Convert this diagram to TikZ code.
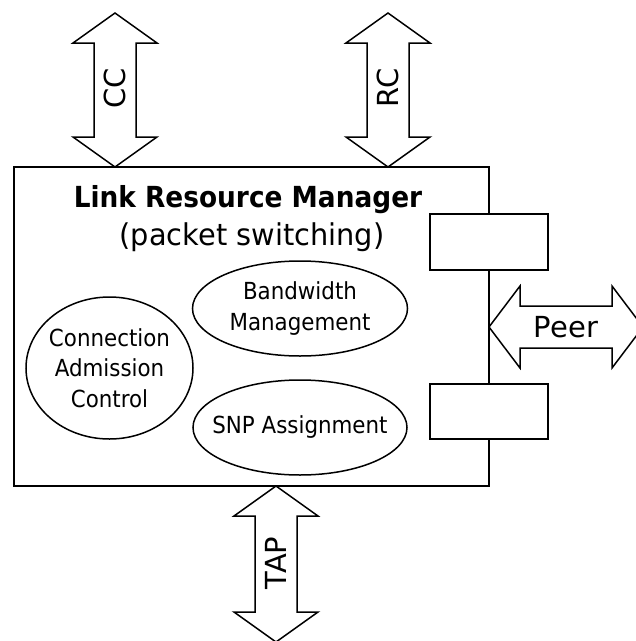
\documentclass[tikz,border=0pt]{standalone}
\usepackage{fontspec}
\setmainfont{DejaVu Sans}
\newfontfamily\narrowsans{DejaVu Sans}[FakeStretch=0.91]
\newfontfamily\midsans{DejaVu Sans}[FakeStretch=0.96]
\usetikzlibrary{shapes.geometric,calc}
\tikzset{
  x=1pt, y=-1pt,
  outline/.style={draw=black, line width=1.5pt, line join=miter},
  portbox/.style={outline, fill=white},
  task/.style={outline, ellipse, inner sep=0pt},
  tasktext/.style={align=center, inner sep=0pt, font=\narrowsans\fontsize{23.5}{30.5}\selectfont},
  arrowlabel/.style={font=\fontsize{29}{34}\selectfont, inner sep=0pt},
}
% vertical double arrow: centre x, top tip y, bottom tip y
\newcommand{\VDArrow}[3]{%
  \draw[outline, fill=white] (#1,#2) -- ++(42,30) -- ++(-21,0) |- ($(#1,#3)+(21,-30)$) -- ++(21,0)
    -- (#1,#3) -- ++(-42,-30) -- ++(21,0) |- ($(#1,#2)+(-21,30)$) -- ++(-21,0) -- cycle;}
\begin{document}
\begin{tikzpicture}
\useasboundingbox (0,0) rectangle (636,641);

% main block
\draw[outline] (14,167) rectangle (489,486);
\node[font=\narrowsans\fontsize{29}{32}\selectfont\bfseries, anchor=base] (title) at (248,207) {Link Resource Manager};
\node[font=\midsans\fontsize{30}{34}\selectfont, anchor=base] (subtitle) at (252,245) {(packet switching)};

% functions inside the manager
\node[task, minimum width=215pt, minimum height=95pt] (bw) at (300,308.5) {};
\node[tasktext] at (bw) {Bandwidth\\Management};
\node[task, minimum width=214pt, minimum height=95pt] (snp) at (300,427.5) {};
\node[tasktext] at (snp) {SNP Assignment};
\node[task, minimum width=167pt, minimum height=142pt] (cac) at (109.5,368) {};
\node[tasktext] at (cac) {Connection\\Admission\\Control};

% ports on the right edge
\node[portbox, minimum width=118pt, minimum height=56pt, inner sep=0pt] (p1) at (489,242) {};
\node[portbox, minimum width=118pt, minimum height=55pt, inner sep=0pt] (p2) at (489,411.5) {};

% interfaces
\VDArrow{115}{13}{167}
\node[arrowlabel, rotate=90] (cc) at (115,88) {CC};
\VDArrow{388}{13}{167}
\node[arrowlabel, rotate=90] (rc) at (388,88) {RC};
\VDArrow{276}{486}{642}
\node[arrowlabel, rotate=90] (tap) at (276,563) {TAP};

% peer interface (horizontal)
\draw[outline, fill=white] (489,327) -- ++(31,-41) -- ++(0,20) -- ++(92,0) -- ++(0,-20)
  -- ++(31,41) -- ++(-31,41) -- ++(0,-20) -- ++(-92,0) -- ++(0,20) -- cycle;
\node[arrowlabel] (peer) at (566,327) {Peer};
\end{tikzpicture}
\end{document}
